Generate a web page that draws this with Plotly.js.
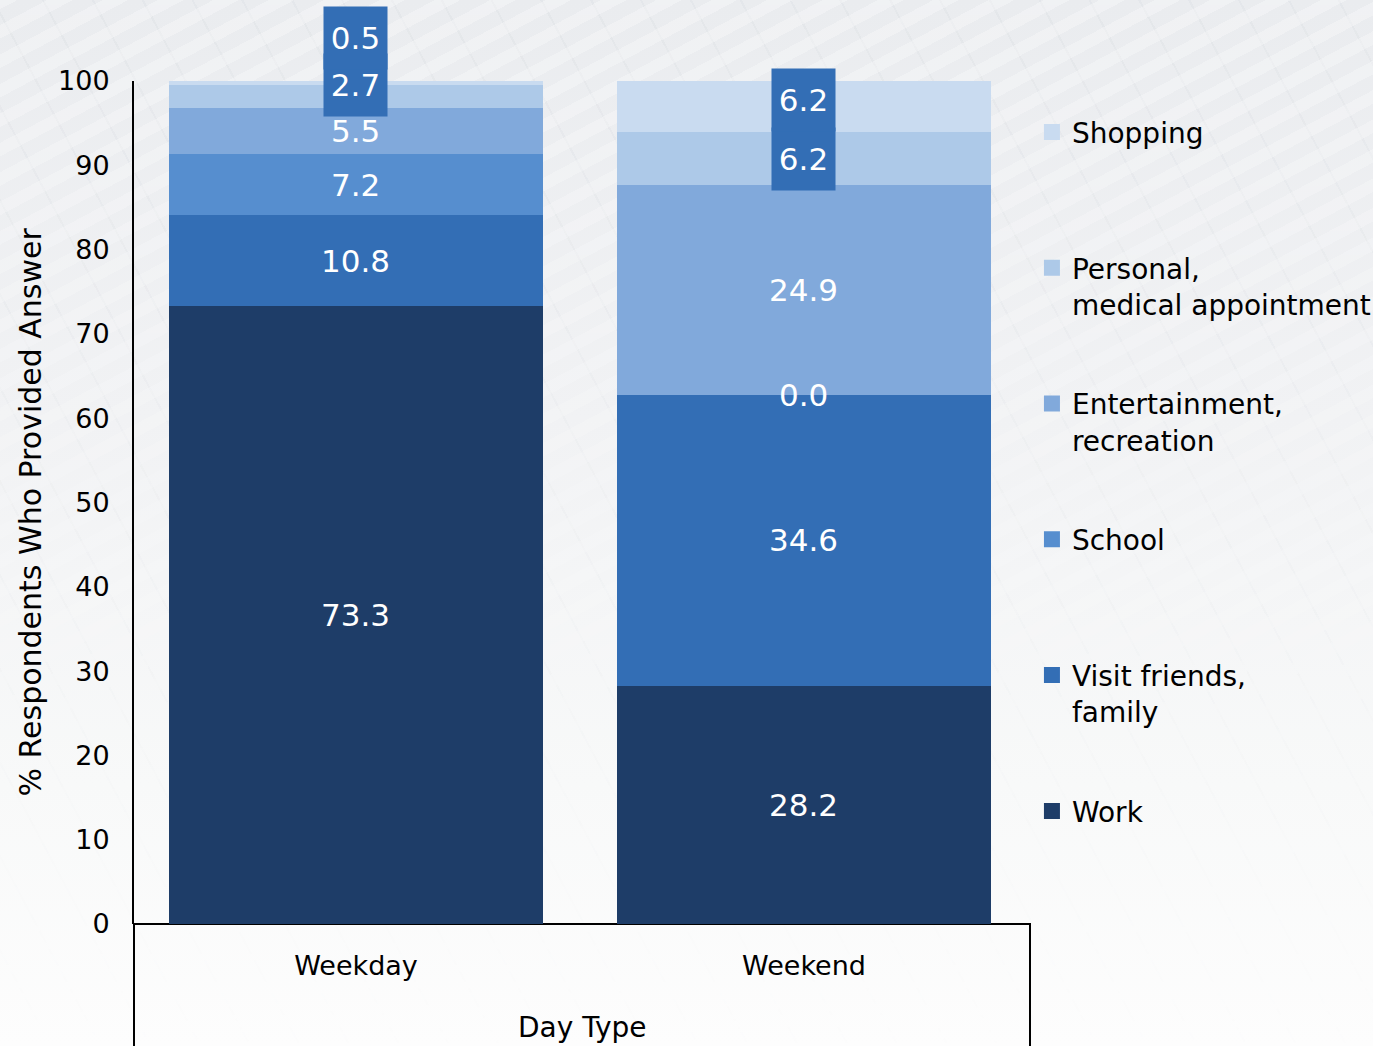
<!DOCTYPE html>
<html><head><meta charset="utf-8">
<script src="https://cdn.plot.ly/plotly-3.0.1.min.js"></script>
<style>
html,body{margin:0;padding:0;}
body{width:1373px;height:1046px;overflow:hidden;position:relative;
background:linear-gradient(180deg,#eaecef 0%,#f1f2f4 40%,#f8f9f9 75%,#fdfdfd 100%);}
#bgpat{position:absolute;left:0;top:0;width:1373px;height:1046px;
background:
repeating-linear-gradient(-28deg, rgba(255,255,255,0.30) 0 12px, rgba(255,255,255,0) 12px 26px),
repeating-linear-gradient(62deg, rgba(205,210,216,0.18) 0 2px, rgba(0,0,0,0) 2px 44px);
-webkit-mask-image:linear-gradient(180deg, rgba(0,0,0,1) 0%, rgba(0,0,0,0.4) 50%, rgba(0,0,0,0.03) 100%);
mask-image:linear-gradient(180deg, rgba(0,0,0,1) 0%, rgba(0,0,0,0.4) 50%, rgba(0,0,0,0.03) 100%);}
#chart{position:absolute;left:0;top:0;width:1373px;height:1046px;}
</style></head>
<body><div id="bgpat"></div><div id="chart"></div>
<script>
// ---- data ----
const categories = ['Weekday', 'Weekend'];
const work = [73.3, 28.2];
const visitFriends = [10.8, 34.6];
const school = [7.2, 0.0];
const entertainment = [5.5, 24.9];
const personal = [2.7, 6.2];
const shopping = [0.5, 6.2];
const seriesNames = ['Work', 'Visit friends,<br>family', 'School', 'Entertainment,<br>recreation', 'Personal,<br>medical appointment', 'Shopping'];
const yTickVals = [0, 10, 20, 30, 40, 50, 60, 70, 80, 90, 100];
const xTitle = 'Day Type';
const yTitle = '% Respondents Who Provided Answer';

// ---- style ----
const FONT = 'DejaVu Sans, sans-serif';
const colors = ['#1e3d68', '#336eb5', '#568ecf', '#81a9db', '#adc9e8', '#c9dbf0'];
const seriesValues = [work, visitFriends, school, entertainment, personal, shopping];
const boxedSeries = [4, 5];           // labels drawn in dark boxes
const boxColor = '#336eb5';
// pixel nudges for the boxed labels (series index -> per-category shift)
const boxShift = {4: [12, 0], 5: [45, 6]};

const barTraces = seriesValues.map((vals, i) => ({
  type: 'bar',
  x: categories,
  y: vals,
  name: seriesNames[i],
  showlegend: false,
  marker: {color: colors[i], line: {width: 0}},
  hoverinfo: 'skip'
}));

// legend-only entries (square swatches, equal spacing)
const legendTraces = seriesValues.map((vals, i) => ({
  type: 'scatter', mode: 'markers',
  x: [categories[0]], y: [null],
  name: seriesNames[i].includes('<br>') ? seriesNames[i] : seriesNames[i] + '<br>\u00a0',
  legendgroup: 'g' + i,
  legendrank: seriesValues.length - i,
  marker: {color: colors[i], symbol: 'square', size: 16},
  hoverinfo: 'skip', cliponaxis: false
}));

const annotations = [];
categories.forEach((cat, c) => {
  let base = 0;
  seriesValues.forEach((vals, i) => {
    const v = vals[c];
    const center = base + v / 2;
    base += v;
    const boxed = boxedSeries.includes(i);
    const ann = {
      x: cat, y: center, xref: 'x', yref: 'y',
      text: v.toFixed(1), showarrow: false,
      font: {family: FONT, size: 31, color: '#ffffff'},
      xanchor: 'center', yanchor: 'middle'
    };
    if (boxed) {
      ann.bgcolor = boxColor;
      ann.width = 63;
      ann.height = 62;
      ann.borderpad = 0;
      ann.yshift = boxShift[i][c];
    }
    annotations.push(ann);
  });
});

annotations.push({
  xref: 'paper', yref: 'paper', x: 0.5, y: 0, yshift: -103,
  text: xTitle, showarrow: false, xanchor: 'center', yanchor: 'middle',
  font: {family: FONT, size: 28, color: '#000'}
});
annotations.push({
  xref: 'paper', yref: 'paper', x: 0, y: 0.5, xshift: -104, yshift: -10,
  text: yTitle, showarrow: false, textangle: -90, xanchor: 'center', yanchor: 'middle',
  font: {family: FONT, size: 30, color: '#000'}
});

const layout = {
  width: 1373, height: 1046,
  margin: {l: 134, r: 343, t: 81, b: 122, pad: 0},
  paper_bgcolor: 'rgba(0,0,0,0)',
  plot_bgcolor: 'rgba(0,0,0,0)',
  barmode: 'stack',
  bargap: 0.165,
  font: {family: FONT, size: 27, color: '#000'},
  showlegend: true,
  legend: {
    xref: 'container', yref: 'container',
    x: 0.7516, xanchor: 'left', y: 0.8975, yanchor: 'top',
    maxheight: 1000,
    bgcolor: 'rgba(0,0,0,0)', borderwidth: 0,
    font: {family: FONT, size: 28, color: '#000'},
    traceorder: 'grouped', tracegroupgap: 60, valign: 'top'
  },
  xaxis: {
    type: 'category', range: [-0.4955, 1.5045],
    showline: false, showgrid: false, zeroline: false,
    ticks: 'outside', ticklen: 18, tickcolor: 'rgba(0,0,0,0)',
    tickfont: {family: FONT, size: 27, color: '#000'}, fixedrange: true
  },
  yaxis: {
    range: [0, 100], tickvals: yTickVals, showgrid: false, zeroline: false,
    showline: true, linecolor: '#000', linewidth: 2,
    ticks: 'outside', ticklen: 17, tickcolor: 'rgba(0,0,0,0)',
    tickfont: {family: FONT, size: 27, color: '#000'},
    fixedrange: true
  },
  shapes: [{
    type: 'rect', xref: 'paper', yref: 'paper', x0: 0, x1: 1, y0: -0.25, y1: 0,
    line: {color: '#000', width: 2}, fillcolor: 'rgba(0,0,0,0)', layer: 'below'
  }],
  annotations: annotations
};

Plotly.newPlot('chart', barTraces.concat(legendTraces), layout, {displayModeBar: false, staticPlot: true});
</script>
</body></html>
